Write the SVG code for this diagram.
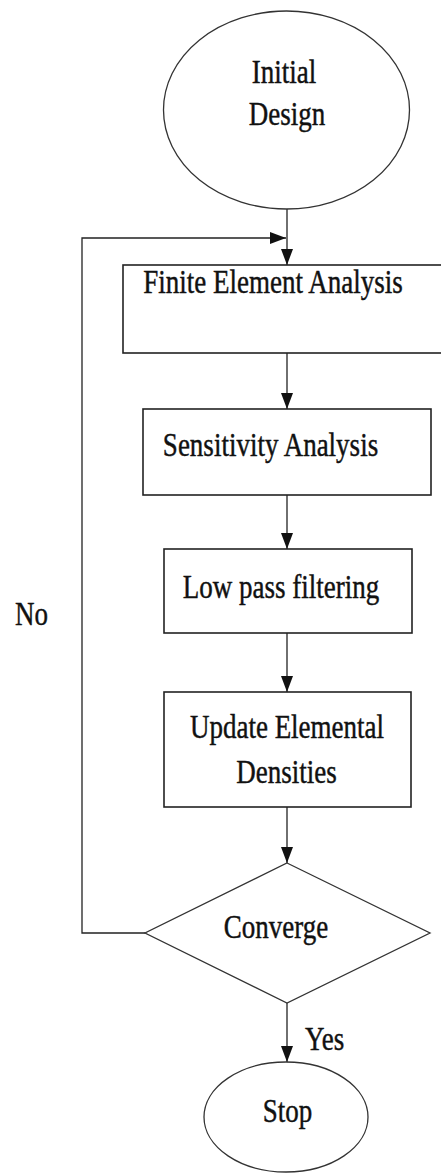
<svg xmlns="http://www.w3.org/2000/svg" width="441" height="1173" viewBox="0 0 441 1173">
<style>
.shape{fill:#fff;stroke:#222;stroke-width:1.6}
.oval{fill:#fff;stroke:#333;stroke-width:1.3}
.conn{fill:none;stroke:#222;stroke-width:1.3}
.t{font-family:"Liberation Serif","Times New Roman",serif;font-size:27px;fill:#111;stroke:#111;stroke-width:0.35;text-anchor:middle}
.ts{font-family:"Liberation Serif","Times New Roman",serif;font-size:27px;fill:#111;stroke:#111;stroke-width:0.35;text-anchor:start}
</style>
<defs>
<marker id="arr" markerUnits="userSpaceOnUse" markerWidth="16" markerHeight="12" refX="16" refY="6" orient="auto">
<path d="M0,0 L16,6 L0,12 z" fill="#111"/>
</marker>
</defs>
<rect width="441" height="1173" fill="#fff"/>
<g id="connectors">
<line class="conn" x1="287" y1="209" x2="287" y2="265" marker-end="url(#arr)"/>
<line class="conn" x1="287" y1="353" x2="287" y2="409" marker-end="url(#arr)"/>
<line class="conn" x1="287" y1="495" x2="287" y2="549" marker-end="url(#arr)"/>
<line class="conn" x1="287" y1="633" x2="287" y2="692" marker-end="url(#arr)"/>
<line class="conn" x1="287" y1="807" x2="287" y2="863" marker-end="url(#arr)"/>
<line class="conn" x1="287" y1="1003" x2="287" y2="1062" marker-end="url(#arr)"/>
<polyline class="conn" points="145,933 82,933 82,238 286,238" marker-end="url(#arr)"/>
<text class="ts" transform="translate(15,625) scale(1,1.27)">No</text>
<text class="ts" transform="translate(305,1050) scale(1,1.27)">Yes</text>
</g>
<g id="initial">
<ellipse class="oval" cx="286.5" cy="110" rx="123" ry="99"/>
<text class="t" transform="translate(284,83) scale(1,1.27)">Initial</text>
<text class="t" transform="translate(287,125) scale(1,1.27)">Design</text>
</g>
<g id="fea">
<rect class="shape" x="123" y="265" width="325" height="88"/>
<text class="t" transform="translate(273,293) scale(1,1.27)">Finite Element Analysis</text>
</g>
<g id="sensitivity">
<rect class="shape" x="143" y="409" width="288" height="86"/>
<text class="t" transform="translate(270.5,456) scale(1,1.27)">Sensitivity Analysis</text>
</g>
<g id="lowpass">
<rect class="shape" x="164" y="549" width="248" height="84"/>
<text class="t" transform="translate(281,598) scale(1,1.27)">Low pass filtering</text>
</g>
<g id="update">
<rect class="shape" x="164" y="692" width="247" height="115"/>
<text class="t" transform="translate(287,738) scale(1,1.27)">Update Elemental</text>
<text class="t" transform="translate(286.5,783) scale(1,1.27)">Densities</text>
</g>
<g id="converge">
<polygon class="oval" points="287,863 430,933 287,1003 145,933"/>
<text class="t" transform="translate(276,938) scale(1,1.27)">Converge</text>
</g>
<g id="stop">
<ellipse class="oval" cx="286" cy="1117" rx="82" ry="55"/>
<text class="t" transform="translate(287.5,1122) scale(1,1.27)">Stop</text>
</g>
</svg>
